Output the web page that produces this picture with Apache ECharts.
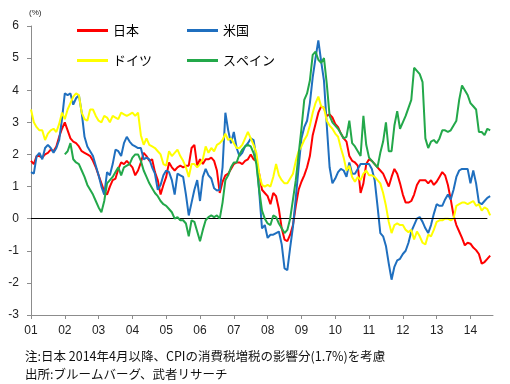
<!DOCTYPE html>
<html><head><meta charset="utf-8">
<script src="https://cdn.jsdelivr.net/npm/echarts/dist/echarts.min.js"></script>
<style>html,body{margin:0;padding:0;background:#fff}#c{width:510px;height:384px}</style>
</head><body><div id="c"></div>
<script>
// x: years (monthly data, first point = Jan of START_YEAR)
const START_YEAR = 2001;
const yearTicks = [2001,2002,2003,2004,2005,2006,2007,2008,2009,2010,2011,2012,2013,2014];
const yearLabels = ['01','02','03','04','05','06','07','08','09','10','11','12','13','14'];
const seriesNames = ['日本','米国','ドイツ','スペイン'];

// 日本 (from Jan 2001)
const japan = [1.8,1.7,1.95,1.95,1.9,2.0,2.05,2.15,2.1,2.25,2.55,2.8,3.0,2.75,2.5,2.4,2.35,2.25,2.1,2.05,2.0,1.95,1.8,1.6,1.35,1.1,0.85,0.75,1.0,
 1.2,1.25,1.55,1.75,1.7,1.8,1.7,1.6,1.35,1.5,1.75,2.05,1.95,1.8,1.85,1.45,1.2,0.75,1.05,1.3,1.75,1.6,1.5,1.6,1.65,1.6,1.65,
 1.65,2.2,2.3,1.65,1.85,1.7,1.85,1.85,1.9,1.8,1.5,0.8,1.15,1.35,1.4,1.55,1.7,1.75,1.75,1.7,1.8,1.85,2.0,1.85,1.8,
 1.4,0.9,0.8,0.7,0.45,0.8,0.7,0.3,-0.3,-0.65,-0.7,-0.5,-0.2,0.4,0.9,1.15,1.35,1.6,1.95,2.6,2.95,3.3,3.5,3.45,3.2,3.25,3.15,2.95,2.85,2.65,2.5,2.4,
 1.95,1.8,1.75,1.65,0.8,1.1,1.7,1.85,1.8,1.7,1.6,1.5,1.4,1.2,1.0,1.3,1.55,1.4,1.1,0.75,0.5,0.5,0.55,0.75,1.05,1.2,1.2,1.2,1.1,1.2,1.05,1.15,1.3,1.45,1.35,1.05,0.6,0.1,-0.2,-0.4,-0.6,-0.83,-0.75,-0.78,-0.9,-0.98,-1.1,-1.4,-1.35,-1.25,-1.15];
const japanStart = 0;

// 米国 (from Jan 2001)
const usa = [1.45,1.4,1.95,2.05,1.85,2.2,2.3,2.2,2.05,2.2,2.45,3.1,3.9,3.85,3.9,3.55,3.75,3.85,3.3,2.55,2.25,2.1,1.95,1.65,1.35,1.0,0.75,1.45,1.35,
 1.7,2.15,2.1,1.95,2.35,2.55,2.4,2.3,2.25,2.2,2.2,1.85,1.9,1.85,1.6,1.4,0.9,1.05,1.35,1.5,1.45,1.2,0.75,1.4,1.35,1.3,0.75,
 0.1,0.5,0.9,1.2,0.55,1.3,1.55,1.35,1.25,0.95,0.88,0.9,1.6,3.3,2.75,2.35,2.7,2.2,1.95,2.05,2.25,2.35,2.5,2.45,1.9,
 0.85,-0.3,-0.2,-0.6,-0.5,-0.5,-0.45,-0.4,-0.8,-1.55,-1.6,-0.9,-0.25,0.65,1.6,2.5,2.85,3.05,3.6,4.4,5.0,5.55,4.9,4.3,2.9,1.6,1.1,1.25,1.45,1.55,1.5,1.3,
 1.75,1.4,1.4,1.55,1.7,1.7,1.7,1.7,1.55,1.2,0.4,-0.45,-0.55,-0.85,-1.4,-1.9,-1.5,-1.3,-1.25,-1.1,-1.0,-0.75,-0.4,-0.2,0.0,0.05,-0.1,-0.3,-0.45,-0.2,0.15,0.45,0.4,0.4,0.6,0.75,0.6,0.9,1.3,1.5,1.55,1.55,1.55,1.1,1.5,1.1,0.5,0.45,0.55,0.65,0.7];
const usaStart = 0;

// ドイツ (from Jan 2001)
const germany = [3.4,3.0,2.85,2.75,2.75,2.45,2.65,2.75,2.8,2.7,2.95,3.3,3.1,3.4,3.6,3.8,3.9,3.85,3.3,3.1,3.05,3.4,3.4,3.2,3.05,3.0,3.2,3.15,3.0,
 3.2,3.15,3.1,3.3,3.25,3.2,3.25,3.3,3.2,3.3,2.6,2.3,2.5,2.3,2.25,2.2,2.1,2.0,1.7,1.65,2.1,1.95,2.05,2.15,1.95,1.8,1.6,
 1.3,1.7,1.7,1.6,1.7,1.85,2.25,2.05,2.2,2.1,2.3,2.35,2.45,2.65,2.45,2.5,2.35,2.2,2.2,2.3,2.5,2.7,2.5,2.3,2.05,
 1.4,1.05,1.0,1.05,1.0,1.3,1.7,1.35,1.2,1.1,1.1,1.25,1.4,1.8,2.1,2.25,2.45,2.6,2.9,3.3,3.6,3.8,3.5,3.45,3.05,2.9,2.8,2.65,2.55,2.2,1.9,1.5,
 1.65,1.3,1.15,1.3,1.2,1.4,1.5,1.35,1.35,1.3,1.2,1.1,0.8,0.4,-0.1,-0.45,-0.2,-0.15,-0.2,-0.2,-0.35,-0.42,-0.35,-0.65,-0.4,-0.55,-0.75,-0.8,-0.5,-0.55,-0.35,-0.1,-0.05,-0.05,0.0,0.0,-0.05,0.0,0.4,0.45,0.5,0.5,0.45,0.5,0.55,0.4,0.45,0.25,0.35,0.3,0.1];
const germanyStart = 0;

// スペイン (from Jan 2002)
const spain = [2.0,2.1,2.35,1.85,1.75,1.7,1.5,1.3,1.05,0.9,0.75,0.55,0.35,0.2,0.55,1.1,1.2,
 1.3,1.45,1.6,1.35,1.6,1.65,1.7,1.9,2.0,2.0,1.8,1.5,1.3,1.1,0.95,0.8,0.7,0.55,0.45,0.4,0.3,0.2,0.0,0.05,-0.05,-0.05,-0.15,
 -0.55,-0.05,-0.1,-0.4,-0.7,-0.35,-0.05,0.05,0.1,0.05,0.1,0.0,0.5,1.2,1.35,1.6,1.75,1.75,2.0,2.15,2.25,2.3,2.25,2.05,1.7,
 0.9,0.25,0.0,-0.15,-0.2,0.1,0.05,-0.15,-0.3,-0.45,-0.35,0.0,0.6,1.2,2.0,2.8,3.7,3.9,4.3,5.1,5.2,4.95,4.85,5.0,4.2,3.2,3.0,2.9,2.8,2.65,2.5,2.55,
 3.05,2.35,2.25,2.1,1.95,3.2,2.3,1.9,1.8,1.7,1.6,2.05,2.4,3.0,2.1,2.1,2.9,3.35,2.8,3.0,3.2,3.45,3.7,4.7,4.6,4.5,4.25,2.5,2.2,2.4,2.45,2.35,2.5,2.75,2.75,2.7,2.75,2.9,3.05,3.7,4.15,4.0,3.85,3.6,3.5,3.4,2.7,2.7,2.6,2.8,2.75];
const spainStart = 12;

const colors = ['#ff0000','#1f6fbf','#ffff00','#23a84a'];

function toPoints(vals, start){
  return vals.map((v,i)=>[START_YEAR + (start+i)/12, v]);
}

const numFont = '"Liberation Sans", Arial, sans-serif';
const jpFont = '"Noto Sans CJK JP", sans-serif';

const chart = echarts.init(document.getElementById('c'), null, {renderer:'canvas'});

const seriesData = [
  toPoints(japan, japanStart),
  toPoints(usa, usaStart),
  toPoints(germany, germanyStart),
  toPoints(spain, spainStart)
];

const legendPos = [[77,24],[187,24],[77,54],[187,54]];

chart.setOption({
  animation:false,
  backgroundColor:'#fff',
  grid:{left:31,right:17,top:26,bottom:69},
  legend: seriesNames.map((n,i)=>({
    data:[n], left:legendPos[i][0], top:legendPos[i][1], padding:0,
    icon:'rect', itemWidth:31, itemHeight:3,
    textStyle:{fontFamily:jpFont,fontSize:13,color:'#000'},
    selectedMode:false
  })),
  xAxis:{
    type:'value', min:2001, max:2014.667,
    axisLine:{show:true,onZero:false,lineStyle:{color:'#8c8c8c',width:1}},
    axisTick:{show:true,length:4,lineStyle:{color:'#8c8c8c'},customValues:yearTicks},
    axisLabel:{margin:10,fontFamily:numFont,fontSize:12,color:'#222',customValues:yearTicks,
      formatter:(v)=>{const k=yearTicks.indexOf(Math.round(v));return k>=0?yearLabels[k]:'';}},
    splitLine:{show:false}
  },
  yAxis:{
    type:'value', min:-3, max:6, interval:1,
    axisLine:{show:true,lineStyle:{color:'#8c8c8c',width:1}},
    axisTick:{show:true,length:4,lineStyle:{color:'#8c8c8c'}},
    axisLabel:{margin:12,fontFamily:numFont,fontSize:12,color:'#222'},
    splitLine:{show:false}
  },
  graphic:[
    {type:'text',left:29,top:9,style:{text:'(%)',font:'8px '+numFont,fill:'#222'}},
    {type:'text',left:25,top:350,style:{text:'注:日本 2014年4月以降、CPIの消費税増税の影響分(1.7%)を考慮',font:'12.5px '+jpFont,fill:'#111'}},
    {type:'text',left:25,top:368,style:{text:'出所:ブルームバーグ、武者リサーチ',font:'12.5px '+jpFont,fill:'#111'}}
  ],
  series: seriesData.map((d,i)=>{
    const s = {
      name:seriesNames[i], type:'line', data:d, showSymbol:false, symbol:'none',
      lineStyle:{color:colors[i],width:2}, itemStyle:{color:colors[i]},
      smooth:false, z:2+i
    };
    if(i===3){
      s.markLine = {silent:true,symbol:'none',label:{show:false},
        lineStyle:{color:'#000',width:1,type:'solid'},
        data:[[{coord:[2001,0]},{coord:[2014.5,0]}]]};
    }
    return s;
  })
});
</script></body></html>
